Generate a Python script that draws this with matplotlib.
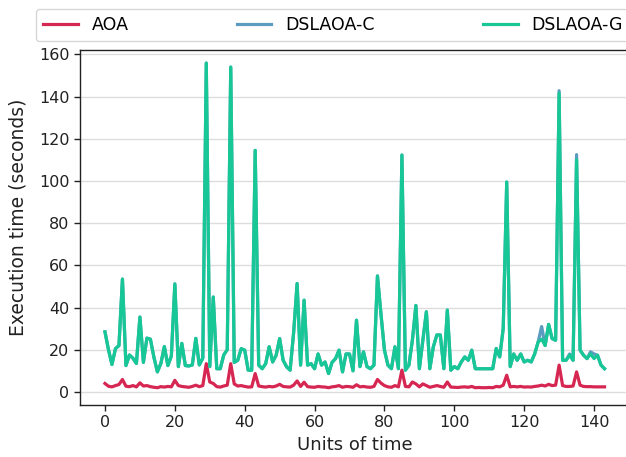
import matplotlib
matplotlib.use("Agg")
import matplotlib.pyplot as plt

aoa = [4.0, 2.7, 2.4, 3.0, 3.5, 5.9, 2.7, 2.5, 3.0, 2.4,
       4.3, 2.8, 3.0, 2.5, 2.2, 2.0, 2.5, 2.3, 2.6, 2.4,
       5.5, 3.0, 2.6, 2.4, 2.2, 2.6, 3.2, 2.5, 3.0, 13.4,
       4.7, 4.0, 2.5, 2.3, 2.8, 3.2, 13.4, 3.8, 2.8, 3.0,
       2.6, 2.3, 2.4, 8.7, 2.8, 2.5, 2.3, 2.6, 2.4, 2.8,
       3.6, 2.6, 2.4, 2.3, 3.2, 5.2, 2.6, 4.6, 2.5, 2.3,
       2.2, 2.6, 2.4, 2.3, 2.0, 2.4, 2.6, 3.0, 2.2, 2.6,
       2.5, 2.2, 3.4, 2.4, 2.6, 2.3, 2.2, 2.6, 5.9, 4.2,
       3.0, 2.4, 2.2, 3.0, 2.4, 10.3, 2.6, 2.4, 4.7, 3.8,
       2.4, 3.8, 3.0, 2.2, 2.6, 3.0, 2.6, 2.2, 4.7, 2.3,
       2.2, 2.1, 2.3, 2.4, 2.2, 2.6, 2.0, 2.1, 2.0, 2.0,
       2.1, 2.0, 2.6, 2.4, 3.2, 7.9, 2.4, 2.6, 2.4, 2.6,
       2.3, 2.4, 2.3, 2.6, 2.8, 3.2, 2.8, 3.6, 3.0, 3.2,
       12.7, 3.0, 2.6, 2.6, 2.8, 9.5, 3.2, 2.6, 2.5, 2.5,
       2.4, 2.4, 2.4, 2.4]

dslaoa_c = [28.5, 20.0, 13.0, 20.5, 22.0, 53.5, 12.5, 17.5, 16.0, 13.5,
            35.5, 14.0, 25.5, 25.0, 16.5, 9.5, 13.5, 21.5, 12.5, 17.0,
            51.2, 12.0, 23.0, 12.5, 12.3, 12.8, 25.4, 12.8, 16.0, 155.9,
            12.0, 45.0, 11.0, 11.0, 17.5, 20.0, 154.0, 14.0, 15.0, 20.5,
            19.8, 10.3, 10.3, 114.5, 12.7, 11.0, 13.4, 21.4, 14.2, 17.4,
            25.3, 15.0, 11.9, 10.3, 28.0, 51.4, 12.7, 43.5, 12.7, 13.4,
            11.0, 18.0, 12.7, 14.2, 8.7, 14.0, 15.8, 19.8, 9.5, 18.0,
            18.0, 10.0, 34.0, 12.0, 19.0, 12.0, 11.0, 12.7, 55.0, 37.0,
            19.8, 12.7, 11.0, 21.4, 11.0, 112.3, 10.3, 12.7, 24.5, 41.0,
            11.0, 24.5, 38.0, 11.0, 21.4, 27.0, 27.0, 11.0, 38.8, 10.3,
            12.0, 11.0, 14.2, 16.6, 15.0, 19.8, 11.0, 11.0, 11.0, 11.0,
            11.0, 11.0, 20.6, 16.6, 30.0, 99.5, 12.0, 18.0, 15.0, 18.0,
            14.2, 15.0, 14.2, 18.0, 23.7, 31.0, 22.0, 32.0, 25.3, 24.5,
            142.8, 15.0, 15.0, 18.0, 15.0, 112.5, 19.8, 17.4, 15.8, 19.0,
            18.0, 17.4, 12.7, 11.0]

dslaoa_g = [28.5, 20.0, 13.0, 20.5, 22.0, 53.5, 12.5, 17.5, 16.0, 13.5,
            35.5, 14.0, 25.5, 25.0, 16.5, 9.5, 13.5, 21.5, 12.5, 17.0,
            51.2, 12.0, 23.0, 12.5, 12.3, 12.8, 25.4, 12.8, 16.0, 155.9,
            12.0, 45.0, 11.0, 11.0, 17.5, 20.0, 154.0, 14.0, 15.0, 20.5,
            19.8, 10.3, 10.3, 114.5, 12.7, 11.0, 13.4, 21.4, 14.2, 17.4,
            25.3, 15.0, 11.9, 10.3, 28.0, 51.4, 12.7, 43.5, 12.7, 13.4,
            11.0, 18.0, 12.7, 14.2, 8.7, 14.0, 15.8, 19.8, 9.5, 18.0,
            18.0, 10.0, 34.0, 12.0, 19.0, 12.0, 11.0, 12.7, 55.0, 37.0,
            19.8, 12.7, 11.0, 21.4, 11.0, 112.3, 10.3, 12.7, 24.5, 41.0,
            11.0, 24.5, 38.0, 11.0, 21.4, 27.0, 27.0, 11.0, 38.8, 10.3,
            12.0, 11.0, 14.2, 16.6, 15.0, 19.8, 11.0, 11.0, 11.0, 11.0,
            11.0, 11.0, 20.6, 16.6, 30.0, 99.5, 12.0, 18.0, 15.0, 18.0,
            14.2, 15.0, 14.2, 18.0, 23.7, 25.0, 22.0, 32.0, 25.3, 24.5,
            141.5, 15.0, 15.0, 17.4, 15.0, 110.0, 19.8, 17.4, 15.8, 18.0,
            15.8, 17.4, 12.7, 11.0]

x = list(range(len(aoa)))
series_names = ["AOA", "DSLAOA-C", "DSLAOA-G"]
x_ticks = [0, 20, 40, 60, 80, 100, 120, 140]
y_ticks = [0, 20, 40, 60, 80, 100, 120, 140, 160]

fig = plt.figure(figsize=(6.26, 4.57), dpi=100)
ax = fig.add_axes([80 / 626, 52 / 457, 549.5 / 626, 355 / 457])

ax.plot(x, aoa, color="#d62652", lw=2.3, label=series_names[0])
ax.plot(x, dslaoa_c, color="#5b9bbf", lw=2.3, label=series_names[1])
ax.plot(x, dslaoa_g, color="#17c896", lw=2.3, label=series_names[2])

ax.set_xlim(-7.15, 150.15)
ax.set_ylim(-6.2, 162.1)
ax.set_xticks(x_ticks)
ax.set_yticks(y_ticks)
ax.grid(axis="y", color="#dddddd", lw=1)
ax.set_axisbelow(True)
for s in ax.spines.values():
    s.set_color("#222222")
    s.set_linewidth(1)
ax.spines["right"].set_visible(False)
ax.tick_params(direction="out", length=4, width=1, labelsize=11.5, colors="#222222")

ax.set_xlabel("Units of time", fontsize=13, color="#222222")
ax.set_ylabel("Execution time (seconds)", fontsize=13.5, color="#222222")
ax.yaxis.set_label_coords(-0.095, 0.53)

fig.legend(loc="lower left", bbox_to_anchor=(36 / 626, (457 - 41) / 457, 594 / 626, 31 / 457),
           bbox_transform=fig.transFigure, mode="expand", ncol=3, borderaxespad=0,
           fontsize=12.5, frameon=True)

fig.savefig("out.png", dpi=100)
